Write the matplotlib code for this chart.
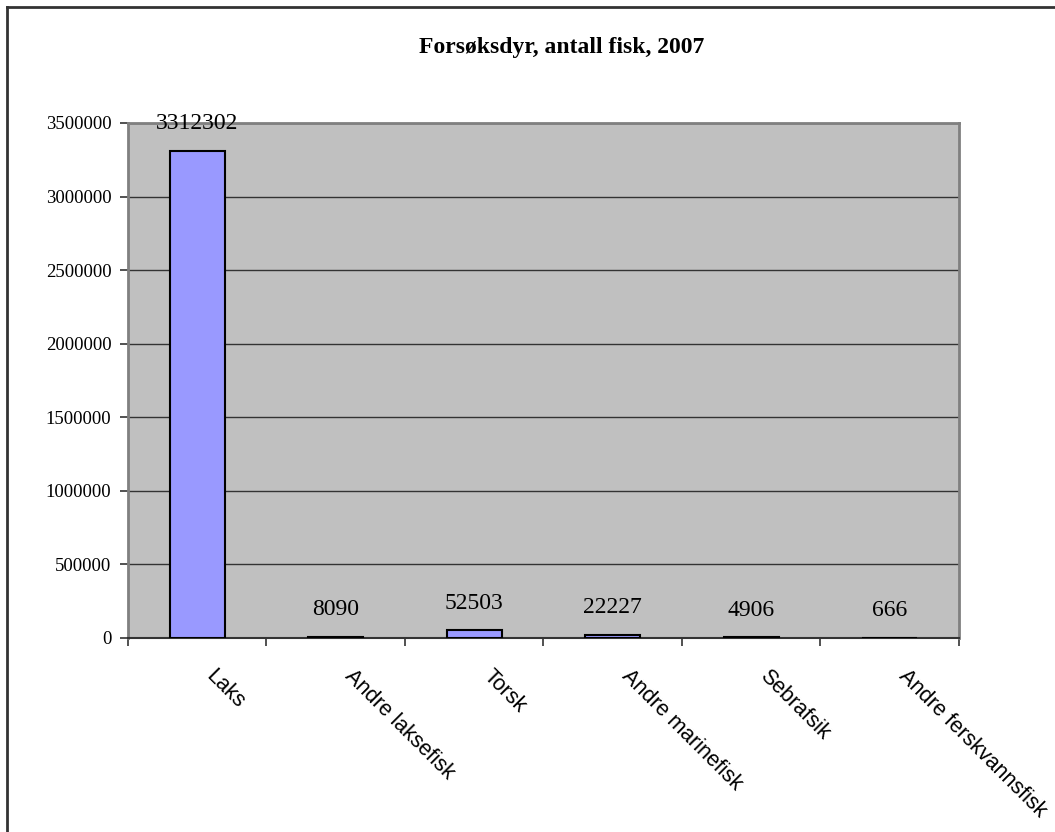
"""Forsøksdyr, antall fisk, 2007"""

import matplotlib
matplotlib.use('Agg')
import matplotlib.pyplot as plt
from matplotlib.lines import Line2D

categories = ['Laks', 'Andre laksefisk', 'Torsk', 'Andre marinefisk',
              'Sebrafsik', 'Andre ferskvannsfisk']
values = [3312302, 8090, 52503, 22227, 4906, 666]
yticks = [0, 500000, 1000000, 1500000, 2000000, 2500000, 3000000, 3500000]

fig = plt.figure(figsize=(10.55, 8.32), dpi=100)
ax = fig.add_axes([0.1213, 0.2332, 0.7877, 0.619])

# outer frame (only left and top visible in the reference)
fig.add_artist(Line2D([7/1055, 7/1055], [0, 1 - 7/832], transform=fig.transFigure,
                      color='#333333', lw=2))
fig.add_artist(Line2D([7/1055, 1], [1 - 7/832, 1 - 7/832], transform=fig.transFigure,
                      color='#333333', lw=2))

ax.set_facecolor('#C0C0C0')
pos = list(range(len(categories)))
ax.bar(pos, values, width=0.4, color='#9999FF', edgecolor='black', linewidth=1.5, zorder=3)

for x, v in zip(pos, values):
    ax.annotate(str(v), (x, v), xytext=(0, 12), textcoords='offset points',
                ha='center', va='bottom', fontsize=17, family='Liberation Serif',
                zorder=4)

# category labels, rotated like the Excel original
for x, name in zip(pos, categories):
    ax.annotate(name, (x, 0), xytext=(14, -20), textcoords='offset points',
                rotation=-45, ha='left', va='top', rotation_mode='anchor',
                family='Liberation Sans', fontsize=15.5, annotation_clip=False)

ax.set_xlim(-0.5, len(categories) - 0.5)
ax.set_ylim(0, 3500000)
ax.set_yticks(yticks)
ax.set_yticklabels([str(t) for t in yticks], family='Liberation Serif', fontsize=13.5)
ax.yaxis.grid(True, color='#333333', linewidth=1, zorder=1)
ax.set_axisbelow(True)

ax.set_xticks([p + 0.5 for p in pos[:-1]] + [-0.5, len(categories) - 0.5])
ax.set_xticklabels([])
ax.tick_params(axis='x', length=6, width=1.2, color='#333333')
ax.tick_params(axis='y', length=6, width=1.2, color='#333333', pad=6)

for s in ['top', 'right', 'left']:
    ax.spines[s].set_color('#808080')
    ax.spines[s].set_linewidth(2)
ax.spines['bottom'].set_color('#333333')
ax.spines['bottom'].set_linewidth(1.5)

fig.text(0.532, 1 - 47/832, 'Forsøksdyr, antall fisk, 2007', ha='center', va='center',
         family='Liberation Serif', fontweight='bold', fontsize=17)

fig.savefig('out.png', dpi=100)
